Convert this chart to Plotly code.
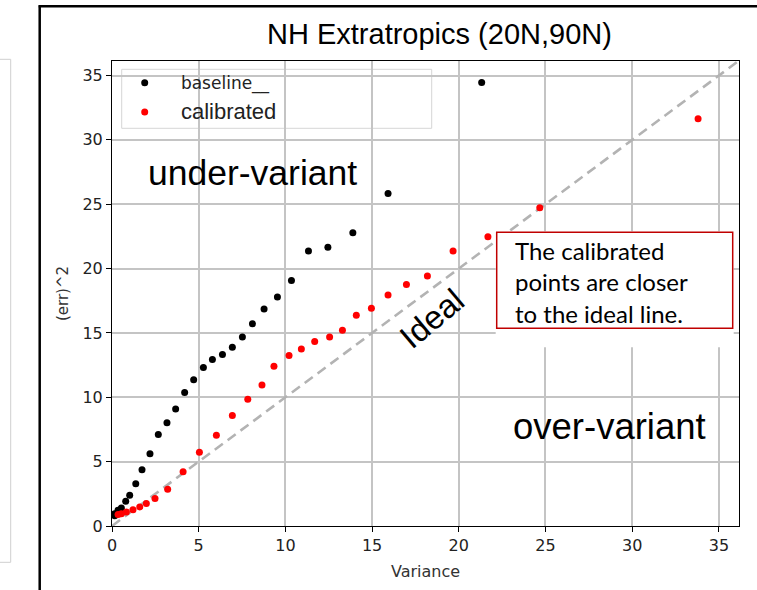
import plotly.graph_objects as go

# ---------------- data ----------------
baseline_x = [0.15, 0.16, 0.35, 0.54, 0.79, 1.02, 1.37, 1.73, 2.19, 2.67, 3.17, 3.67, 4.19, 4.71,
              5.27, 5.79, 6.37, 6.94, 7.52, 8.10, 8.77, 9.54, 10.35, 11.33, 12.45, 13.89, 15.92, 21.32]
baseline_y = [0.80, 0.96, 1.22, 1.40, 1.92, 2.39, 3.29, 4.38, 5.62, 7.10, 8.03, 9.09, 10.37, 11.37,
              12.31, 12.93, 13.32, 13.89, 14.69, 15.72, 16.86, 17.79, 19.08, 21.37, 21.66, 22.78, 25.84, 34.46]

calibrated_x = [0.35, 0.54, 0.83, 1.21, 1.60, 1.98, 2.48, 3.21, 4.10, 5.04, 6.02, 6.94, 7.83, 8.65,
                9.34, 10.21, 10.92, 11.69, 12.55, 13.29, 14.09, 14.96, 15.92, 16.98, 18.19, 19.67,
                21.68, 24.67, 33.80]
calibrated_y = [0.89, 0.96, 1.09, 1.27, 1.48, 1.74, 2.13, 2.85, 4.22, 5.73, 7.05, 8.58, 9.84, 10.96,
                12.41, 13.24, 13.75, 14.33, 14.69, 15.21, 16.37, 16.92, 17.95, 18.76, 19.43, 21.37,
                22.48, 24.72, 31.65]

ideal_x = [0, 40]
ideal_y = [0, 40]

x_range = [0, 36.16]
y_range = [0, 36.13]
tick_vals = [0, 5, 10, 15, 20, 25, 30, 35]

title_text = "NH Extratropics (20N,90N)"
x_title = "Variance"
y_title = "(err)^2"
box_lines = ["The calibrated", "points are closer", "to the ideal line."]

# ---------------- layout helpers (pixel -> paper) ----------------
W, H = 757, 590
L, R, T, B = 112.3, 739.3, 60.7, 525.7


def px(xp):
    return (xp - L) / (R - L)


def py(yp):
    return (B - yp) / (B - T)


fig = go.Figure()

fig.add_trace(go.Scatter(
    x=ideal_x, y=ideal_y, mode="lines", showlegend=False, hoverinfo="skip",
    line=dict(color="#b3b3b3", width=2.6, dash="10px,6px")))

pad = "\u00a0\u00a0\u00a0"
fig.add_trace(go.Scatter(
    x=baseline_x, y=baseline_y, mode="markers", name=pad + "baseline__",
    legendgroup="a",
    marker=dict(color="black", size=7)))

fig.add_trace(go.Scatter(
    x=calibrated_x, y=calibrated_y, mode="markers",
    name=pad + '<span style="font-family:Liberation Sans;font-size:22px">calibrated</span>',
    legendgroup="b",
    marker=dict(color="#ff0000", size=7)))

axis_common = dict(
    showline=True, linecolor="black", linewidth=1, mirror=True,
    ticks="outside", ticklen=5, tickwidth=1, tickcolor="black",
    showgrid=True, gridcolor="#c4c4c4", gridwidth=1.5,
    zeroline=False, tickvals=tick_vals,
    tickfont=dict(family="DejaVu Sans", size=16, color="#222222"),
)

fig.update_xaxes(range=x_range, title=dict(text=x_title, standoff=11,
                 font=dict(family="DejaVu Sans", size=16, color="#333333")), **axis_common)
fig.update_yaxes(range=y_range, title=dict(text=y_title, standoff=10,
                 font=dict(family="DejaVu Sans", size=15, color="#333333")), **axis_common)

shapes = [
    # slide frame (black border, top & left)
    dict(type="line", xref="paper", yref="paper", x0=px(40), x1=px(40), y0=py(5), y1=py(600),
         line=dict(color="black", width=2.5)),
    dict(type="line", xref="paper", yref="paper", x0=px(39), x1=px(770), y0=py(6), y1=py(6),
         line=dict(color="black", width=2.5)),
    # faint panel at far left
    dict(type="rect", xref="paper", yref="paper", x0=px(-10), x1=px(11), y0=py(59), y1=py(562),
         line=dict(color="#cfcfcf", width=1), fillcolor="rgba(0,0,0,0)"),
    # legend frame
    dict(type="rect", xref="paper", yref="paper", x0=px(122), x1=px(432), y0=py(69), y1=py(128),
         line=dict(color="#d6d6d6", width=1), fillcolor="rgba(255,255,255,0.85)", layer="between"),
    # text box: white cover + red border
    dict(type="rect", xref="paper", yref="paper", x0=px(496), x1=px(734), y0=py(231), y1=py(347),
         line=dict(width=0), fillcolor="white", layer="above"),
    dict(type="rect", xref="paper", yref="paper", x0=px(497), x1=px(733), y0=py(232), y1=py(328),
         line=dict(color="#c00000", width=1.5), fillcolor="rgba(0,0,0,0)", layer="above"),
]

annotations = [
    dict(text=title_text, xref="paper", yref="paper", x=px(440), y=py(34), showarrow=False,
         xanchor="center", yanchor="middle",
         font=dict(family="Liberation Sans", size=29, color="black")),
    dict(text="under-variant", xref="paper", yref="paper", x=px(146), y=py(173), showarrow=False,
         xanchor="left", yanchor="middle",
         font=dict(family="Liberation Sans", size=35.5, color="black")),
    dict(text="over-variant", xref="paper", yref="paper", x=px(511), y=py(426), showarrow=False,
         xanchor="left", yanchor="middle",
         font=dict(family="Liberation Sans", size=36.5, color="black")),
    dict(text="Ideal", xref="paper", yref="paper", x=px(432), y=py(318), showarrow=False,
         xanchor="center", yanchor="middle", textangle=-40,
         font=dict(family="Liberation Sans", size=33, color="black")),
]
for i, line in enumerate(box_lines):
    annotations.append(dict(text=line, xref="paper", yref="paper", x=px(513), y=py(250 + 31.5 * i),
                            showarrow=False, xanchor="left", yanchor="middle",
                            font=dict(family="Lato", size=24, color="black")))

fig.update_layout(
    width=W, height=H,
    margin=dict(l=112, r=18, t=61, b=64),
    paper_bgcolor="white", plot_bgcolor="white",
    showlegend=True,
    legend=dict(x=px(125), y=py(65), xanchor="left", yanchor="top",
                bgcolor="rgba(0,0,0,0)", borderwidth=0,
                font=dict(family="DejaVu Sans", size=17, color="#222222"),
                traceorder="grouped", tracegroupgap=4),
    shapes=shapes, annotations=annotations,
)

fig.write_html("out.html")
